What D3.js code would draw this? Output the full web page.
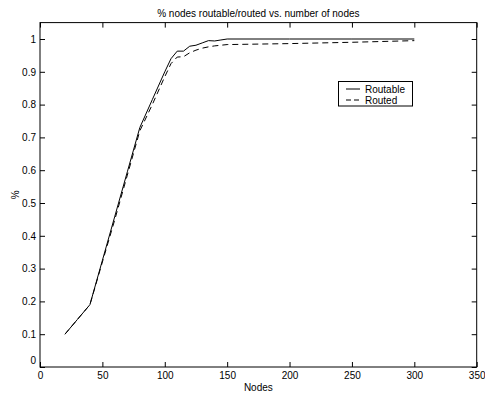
<!DOCTYPE html>
<html>
<head>
<meta charset="utf-8">
<script src="https://cdn.jsdelivr.net/npm/d3@7"></script>
<style>
  html, body { margin: 0; padding: 0; background: #fff; }
  svg text { font-family: "Liberation Sans", Arial, Helvetica, sans-serif; fill: #000; }
</style>
</head>
<body>
<svg id="chart" width="485" height="398"></svg>
<script>
// Number of nodes in the network
const nodes = [20, 30, 40, 50, 60, 70, 80, 90, 100, 105, 110, 115, 120, 125, 130, 135, 140, 145, 150, 200, 250, 300];
// Fraction of nodes that are routable
const routable = [0.10, 0.145, 0.19, 0.325, 0.46, 0.595, 0.73, 0.815, 0.90, 0.94, 0.963, 0.963, 0.978, 0.981, 0.988, 0.995, 0.994, 0.997, 1.0, 1.0, 1.0, 1.0];
// Fraction of nodes actually routed
const routed = [0.10, 0.145, 0.19, 0.32, 0.45, 0.585, 0.72, 0.80, 0.885, 0.925, 0.945, 0.946, 0.958, 0.966, 0.972, 0.976, 0.979, 0.981, 0.983, 0.986, 0.99, 0.995];

const xTicks = [0, 50, 100, 150, 200, 250, 300, 350];
const yTicks = [0, 0.1, 0.2, 0.3, 0.4, 0.5, 0.6, 0.7, 0.8, 0.9, 1];
const seriesNames = ["Routable", "Routed"];
const titleText = "% nodes routable/routed vs. number of nodes";
const xLabel = "Nodes";
const yLabel = "%";

const svg = d3.select("#chart");
const plotLeft = 40, plotRight = 476.7, plotTop = 22.6, plotBottom = 367;

const x = d3.scaleLinear().domain([0, 350]).range([plotLeft, plotRight]);
const y = d3.scaleLinear().domain([0, 1.05]).range([plotBottom, plotTop]);

const fmt = d => d3.format("~g")(d);

// Box around the plotting area
svg.append("rect")
  .attr("x", plotLeft).attr("y", plotTop)
  .attr("width", plotRight - plotLeft).attr("height", plotBottom - plotTop)
  .attr("fill", "none").attr("stroke", "#000").attr("stroke-width", 1);

// Bottom axis (ticks pointing inward)
const gx = svg.append("g").attr("transform", `translate(0,${plotBottom})`)
  .call(d3.axisBottom(x).tickValues(xTicks).tickSize(-5).tickPadding(4.5).tickFormat(fmt));
gx.select(".domain").remove();
gx.selectAll("text").attr("font-size", 10);

// Top axis ticks
const gxt = svg.append("g").attr("transform", `translate(0,${plotTop})`)
  .call(d3.axisTop(x).tickValues(xTicks).tickSize(-5).tickFormat(""));
gxt.select(".domain").remove();

// Left axis
const gy = svg.append("g").attr("transform", `translate(${plotLeft},0)`)
  .call(d3.axisLeft(y).tickValues(yTicks).tickSize(-5).tickPadding(4).tickFormat(fmt));
gy.select(".domain").remove();
gy.selectAll("text").attr("font-size", 10)
  .attr("dy", d => d === 0 ? "-0.35em" : "0.32em");

// Right axis ticks
const gyr = svg.append("g").attr("transform", `translate(${plotRight},0)`)
  .call(d3.axisRight(y).tickValues(yTicks).tickSize(-5).tickFormat(""));
gyr.select(".domain").remove();

svg.selectAll(".tick line").attr("stroke", "#000").attr("stroke-width", 1);

// Series lines
const line = d3.line().x(d => x(d[0])).y(d => y(d[1]));
const routableData = nodes.map((n, i) => [n, routable[i]]);
const routedData = nodes.map((n, i) => [n, routed[i]]);

svg.append("path").datum(routableData)
  .attr("d", line).attr("fill", "none").attr("stroke", "#000").attr("stroke-width", 1);
svg.append("path").datum(routedData)
  .attr("d", line).attr("fill", "none").attr("stroke", "#000").attr("stroke-width", 1)
  .attr("stroke-dasharray", "6,4");

// Title and axis labels
svg.append("text").attr("x", (plotLeft + plotRight) / 2).attr("y", 16.5)
  .attr("text-anchor", "middle").attr("font-size", 10).text(titleText);
svg.append("text").attr("x", (plotLeft + plotRight) / 2).attr("y", 390.5)
  .attr("text-anchor", "middle").attr("font-size", 10).text(xLabel);
svg.append("text").attr("transform", `translate(19,${(plotTop + plotBottom) / 2}) rotate(-90)`)
  .attr("text-anchor", "middle").attr("font-size", 10).text(yLabel);

// Legend
const lg = svg.append("g").attr("transform", "translate(338.5,81.5)");
lg.append("rect").attr("width", 74).attr("height", 24.5)
  .attr("fill", "#fff").attr("stroke", "#000").attr("stroke-width", 1);
const dashes = [null, "5,3"];
seriesNames.forEach((name, i) => {
  const yy = 7.5 + i * 11;
  lg.append("line").attr("x1", 7.5).attr("x2", 21.5).attr("y1", yy).attr("y2", yy)
    .attr("stroke", "#000").attr("stroke-width", 1)
    .attr("stroke-dasharray", dashes[i]);
  lg.append("text").attr("x", 26.5).attr("y", yy + 3.6)
    .attr("font-size", 10).text(name);
});
</script>
</body>
</html>
